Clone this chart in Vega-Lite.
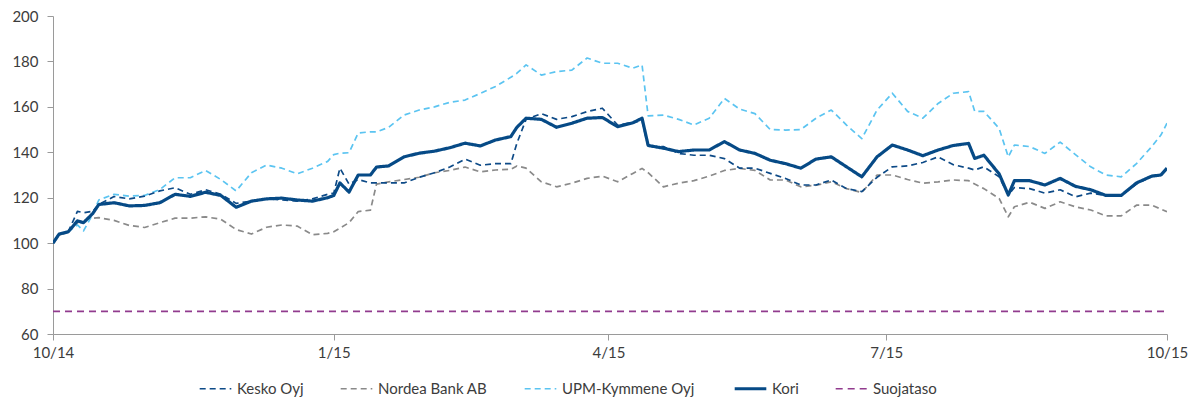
{
  "$schema": "https://vega.github.io/schema/vega-lite/v6.json",
  "width": 1114,
  "height": 318,
  "autosize": {"type": "none"},
  "padding": {"left": 53, "top": 16, "right": 28, "bottom": 69},
  "background": "white",
  "config": {"view": {"stroke": null}, "font": "Lato"},
  "data": {
    "format": {"parse": {"date": "date:'%Y-%m-%d'"}},
    "values": [
      {"date": "2014-10-01", "Kesko Oyj": 100, "Nordea Bank AB": 100, "UPM-Kymmene Oyj": 100, "Kori": 100, "Suojataso": 70},
      {"date": "2014-10-03", "Kesko Oyj": 104, "Nordea Bank AB": 103.5, "UPM-Kymmene Oyj": 104, "Kori": 104, "Suojataso": 70},
      {"date": "2014-10-06", "Kesko Oyj": 105, "Nordea Bank AB": 105, "UPM-Kymmene Oyj": 105, "Kori": 105, "Suojataso": 70},
      {"date": "2014-10-09", "Kesko Oyj": 114, "Nordea Bank AB": 109, "UPM-Kymmene Oyj": 108, "Kori": 109.8, "Suojataso": 70},
      {"date": "2014-10-11", "Kesko Oyj": 113.4, "Nordea Bank AB": 110, "UPM-Kymmene Oyj": 105.4, "Kori": 109, "Suojataso": 70},
      {"date": "2014-10-14", "Kesko Oyj": 114, "Nordea Bank AB": 111, "UPM-Kymmene Oyj": 112.7, "Kori": 113, "Suojataso": 70},
      {"date": "2014-10-16", "Kesko Oyj": 117, "Nordea Bank AB": 111.2, "UPM-Kymmene Oyj": 119, "Kori": 117, "Suojataso": 70},
      {"date": "2014-10-21", "Kesko Oyj": 120.5, "Nordea Bank AB": 110, "UPM-Kymmene Oyj": 121.5, "Kori": 117.8, "Suojataso": 70},
      {"date": "2014-10-26", "Kesko Oyj": 119.5, "Nordea Bank AB": 107.8, "UPM-Kymmene Oyj": 120.7, "Kori": 116.4, "Suojataso": 70},
      {"date": "2014-10-31", "Kesko Oyj": 120.7, "Nordea Bank AB": 106.9, "UPM-Kymmene Oyj": 121, "Kori": 116.6, "Suojataso": 70},
      {"date": "2014-11-05", "Kesko Oyj": 123, "Nordea Bank AB": 109, "UPM-Kymmene Oyj": 123.6, "Kori": 117.8, "Suojataso": 70},
      {"date": "2014-11-10", "Kesko Oyj": 124.4, "Nordea Bank AB": 111, "UPM-Kymmene Oyj": 128.8, "Kori": 121.5, "Suojataso": 70},
      {"date": "2014-11-15", "Kesko Oyj": 121.5, "Nordea Bank AB": 111, "UPM-Kymmene Oyj": 128.8, "Kori": 120.6, "Suojataso": 70},
      {"date": "2014-11-20", "Kesko Oyj": 123.5, "Nordea Bank AB": 111.6, "UPM-Kymmene Oyj": 132, "Kori": 122.4, "Suojataso": 70},
      {"date": "2014-11-25", "Kesko Oyj": 121.5, "Nordea Bank AB": 110.5, "UPM-Kymmene Oyj": 128, "Kori": 121, "Suojataso": 70},
      {"date": "2014-11-30", "Kesko Oyj": 117.5, "Nordea Bank AB": 106, "UPM-Kymmene Oyj": 123, "Kori": 115.8, "Suojataso": 70},
      {"date": "2014-12-05", "Kesko Oyj": 118.5, "Nordea Bank AB": 104, "UPM-Kymmene Oyj": 131, "Kori": 118.5, "Suojataso": 70},
      {"date": "2014-12-10", "Kesko Oyj": 119.5, "Nordea Bank AB": 107, "UPM-Kymmene Oyj": 134.4, "Kori": 119.5, "Suojataso": 70},
      {"date": "2014-12-15", "Kesko Oyj": 119, "Nordea Bank AB": 108, "UPM-Kymmene Oyj": 133, "Kori": 119.8, "Suojataso": 70},
      {"date": "2014-12-20", "Kesko Oyj": 118.5, "Nordea Bank AB": 107.5, "UPM-Kymmene Oyj": 130.5, "Kori": 119, "Suojataso": 70},
      {"date": "2014-12-25", "Kesko Oyj": 119.5, "Nordea Bank AB": 103.7, "UPM-Kymmene Oyj": 133, "Kori": 118.5, "Suojataso": 70},
      {"date": "2014-12-30", "Kesko Oyj": 121.5, "Nordea Bank AB": 104.3, "UPM-Kymmene Oyj": 136, "Kori": 120, "Suojataso": 70},
      {"date": "2015-01-01", "Kesko Oyj": 122, "Nordea Bank AB": 105, "UPM-Kymmene Oyj": 139, "Kori": 121, "Suojataso": 70},
      {"date": "2015-01-03", "Kesko Oyj": 133, "Nordea Bank AB": 106.6, "UPM-Kymmene Oyj": 139.6, "Kori": 126.5, "Suojataso": 70},
      {"date": "2015-01-06", "Kesko Oyj": 126, "Nordea Bank AB": 109, "UPM-Kymmene Oyj": 139.8, "Kori": 122.5, "Suojataso": 70},
      {"date": "2015-01-09", "Kesko Oyj": 128, "Nordea Bank AB": 113.9, "UPM-Kymmene Oyj": 148.5, "Kori": 130, "Suojataso": 70},
      {"date": "2015-01-13", "Kesko Oyj": 126.5, "Nordea Bank AB": 114.5, "UPM-Kymmene Oyj": 149, "Kori": 130, "Suojataso": 70},
      {"date": "2015-01-15", "Kesko Oyj": 126.5, "Nordea Bank AB": 126, "UPM-Kymmene Oyj": 149, "Kori": 133.5, "Suojataso": 70},
      {"date": "2015-01-19", "Kesko Oyj": 126.5, "Nordea Bank AB": 127, "UPM-Kymmene Oyj": 151, "Kori": 134, "Suojataso": 70},
      {"date": "2015-01-24", "Kesko Oyj": 126.5, "Nordea Bank AB": 128, "UPM-Kymmene Oyj": 156.4, "Kori": 138, "Suojataso": 70},
      {"date": "2015-01-29", "Kesko Oyj": 129, "Nordea Bank AB": 129, "UPM-Kymmene Oyj": 158.6, "Kori": 139.6, "Suojataso": 70},
      {"date": "2015-02-03", "Kesko Oyj": 131, "Nordea Bank AB": 131, "UPM-Kymmene Oyj": 160, "Kori": 140.5, "Suojataso": 70},
      {"date": "2015-02-08", "Kesko Oyj": 133.5, "Nordea Bank AB": 132, "UPM-Kymmene Oyj": 162, "Kori": 142, "Suojataso": 70},
      {"date": "2015-02-13", "Kesko Oyj": 137, "Nordea Bank AB": 133.5, "UPM-Kymmene Oyj": 163, "Kori": 144, "Suojataso": 70},
      {"date": "2015-02-18", "Kesko Oyj": 134.3, "Nordea Bank AB": 131.4, "UPM-Kymmene Oyj": 165.9, "Kori": 142.8, "Suojataso": 70},
      {"date": "2015-02-23", "Kesko Oyj": 135, "Nordea Bank AB": 132.2, "UPM-Kymmene Oyj": 169, "Kori": 145.4, "Suojataso": 70},
      {"date": "2015-02-28", "Kesko Oyj": 135, "Nordea Bank AB": 132.5, "UPM-Kymmene Oyj": 173, "Kori": 146.9, "Suojataso": 70},
      {"date": "2015-03-02", "Kesko Oyj": 144, "Nordea Bank AB": 134, "UPM-Kymmene Oyj": 174.8, "Kori": 151, "Suojataso": 70},
      {"date": "2015-03-05", "Kesko Oyj": 154.5, "Nordea Bank AB": 133, "UPM-Kymmene Oyj": 178.5, "Kori": 155, "Suojataso": 70},
      {"date": "2015-03-10", "Kesko Oyj": 157, "Nordea Bank AB": 127, "UPM-Kymmene Oyj": 174, "Kori": 154.5, "Suojataso": 70},
      {"date": "2015-03-15", "Kesko Oyj": 154.5, "Nordea Bank AB": 124.8, "UPM-Kymmene Oyj": 175.5, "Kori": 151, "Suojataso": 70},
      {"date": "2015-03-20", "Kesko Oyj": 155.7, "Nordea Bank AB": 126.4, "UPM-Kymmene Oyj": 176.2, "Kori": 152.8, "Suojataso": 70},
      {"date": "2015-03-25", "Kesko Oyj": 157.9, "Nordea Bank AB": 128.5, "UPM-Kymmene Oyj": 181.5, "Kori": 155, "Suojataso": 70},
      {"date": "2015-03-30", "Kesko Oyj": 159.4, "Nordea Bank AB": 129.5, "UPM-Kymmene Oyj": 179.2, "Kori": 155.3, "Suojataso": 70},
      {"date": "2015-04-04", "Kesko Oyj": 152, "Nordea Bank AB": 127, "UPM-Kymmene Oyj": 179.2, "Kori": 151.3, "Suojataso": 70},
      {"date": "2015-04-09", "Kesko Oyj": 153, "Nordea Bank AB": 130.7, "UPM-Kymmene Oyj": 177, "Kori": 153, "Suojataso": 70},
      {"date": "2015-04-12", "Kesko Oyj": 154, "Nordea Bank AB": 132.9, "UPM-Kymmene Oyj": 178.5, "Kori": 155, "Suojataso": 70},
      {"date": "2015-04-14", "Kesko Oyj": 142.5, "Nordea Bank AB": 131, "UPM-Kymmene Oyj": 156, "Kori": 143, "Suojataso": 70},
      {"date": "2015-04-19", "Kesko Oyj": 142.5, "Nordea Bank AB": 124.8, "UPM-Kymmene Oyj": 156.4, "Kori": 141.8, "Suojataso": 70},
      {"date": "2015-04-24", "Kesko Oyj": 139.5, "Nordea Bank AB": 126.4, "UPM-Kymmene Oyj": 154.5, "Kori": 140.3, "Suojataso": 70},
      {"date": "2015-04-29", "Kesko Oyj": 138.7, "Nordea Bank AB": 127.5, "UPM-Kymmene Oyj": 152, "Kori": 141, "Suojataso": 70},
      {"date": "2015-05-04", "Kesko Oyj": 138.7, "Nordea Bank AB": 129.5, "UPM-Kymmene Oyj": 155, "Kori": 141, "Suojataso": 70},
      {"date": "2015-05-09", "Kesko Oyj": 137.2, "Nordea Bank AB": 132, "UPM-Kymmene Oyj": 163.7, "Kori": 144.7, "Suojataso": 70},
      {"date": "2015-05-14", "Kesko Oyj": 133, "Nordea Bank AB": 132.9, "UPM-Kymmene Oyj": 159, "Kori": 141, "Suojataso": 70},
      {"date": "2015-05-19", "Kesko Oyj": 133, "Nordea Bank AB": 132, "UPM-Kymmene Oyj": 157, "Kori": 139.5, "Suojataso": 70},
      {"date": "2015-05-24", "Kesko Oyj": 130.7, "Nordea Bank AB": 127.8, "UPM-Kymmene Oyj": 150, "Kori": 136.5, "Suojataso": 70},
      {"date": "2015-05-29", "Kesko Oyj": 128.5, "Nordea Bank AB": 127.8, "UPM-Kymmene Oyj": 149.8, "Kori": 135, "Suojataso": 70},
      {"date": "2015-06-03", "Kesko Oyj": 125.6, "Nordea Bank AB": 124.8, "UPM-Kymmene Oyj": 150, "Kori": 133, "Suojataso": 70},
      {"date": "2015-06-08", "Kesko Oyj": 125.6, "Nordea Bank AB": 125.5, "UPM-Kymmene Oyj": 155, "Kori": 137, "Suojataso": 70},
      {"date": "2015-06-13", "Kesko Oyj": 127.8, "Nordea Bank AB": 127, "UPM-Kymmene Oyj": 158.6, "Kori": 138, "Suojataso": 70},
      {"date": "2015-06-18", "Kesko Oyj": 124, "Nordea Bank AB": 124, "UPM-Kymmene Oyj": 152, "Kori": 133.6, "Suojataso": 70},
      {"date": "2015-06-23", "Kesko Oyj": 122.7, "Nordea Bank AB": 122.3, "UPM-Kymmene Oyj": 146, "Kori": 129.2, "Suojataso": 70},
      {"date": "2015-06-28", "Kesko Oyj": 129, "Nordea Bank AB": 130, "UPM-Kymmene Oyj": 158.6, "Kori": 138, "Suojataso": 70},
      {"date": "2015-07-03", "Kesko Oyj": 133.6, "Nordea Bank AB": 130, "UPM-Kymmene Oyj": 166, "Kori": 143.2, "Suojataso": 70},
      {"date": "2015-07-08", "Kesko Oyj": 134, "Nordea Bank AB": 128, "UPM-Kymmene Oyj": 158, "Kori": 141, "Suojataso": 70},
      {"date": "2015-07-13", "Kesko Oyj": 135.5, "Nordea Bank AB": 126.4, "UPM-Kymmene Oyj": 155, "Kori": 138.5, "Suojataso": 70},
      {"date": "2015-07-18", "Kesko Oyj": 138, "Nordea Bank AB": 127, "UPM-Kymmene Oyj": 161.5, "Kori": 141, "Suojataso": 70},
      {"date": "2015-07-23", "Kesko Oyj": 134.5, "Nordea Bank AB": 127.8, "UPM-Kymmene Oyj": 166, "Kori": 143, "Suojataso": 70},
      {"date": "2015-07-28", "Kesko Oyj": 133, "Nordea Bank AB": 127.5, "UPM-Kymmene Oyj": 166.7, "Kori": 143.9, "Suojataso": 70},
      {"date": "2015-07-30", "Kesko Oyj": 132.2, "Nordea Bank AB": 126, "UPM-Kymmene Oyj": 158, "Kori": 137.3, "Suojataso": 70},
      {"date": "2015-08-02", "Kesko Oyj": 133.6, "Nordea Bank AB": 124, "UPM-Kymmene Oyj": 158, "Kori": 138.7, "Suojataso": 70},
      {"date": "2015-08-07", "Kesko Oyj": 129.2, "Nordea Bank AB": 119.7, "UPM-Kymmene Oyj": 150.5, "Kori": 130.5, "Suojataso": 70},
      {"date": "2015-08-10", "Kesko Oyj": 121.2, "Nordea Bank AB": 111.6, "UPM-Kymmene Oyj": 138, "Kori": 121.2, "Suojataso": 70},
      {"date": "2015-08-12", "Kesko Oyj": 124.5, "Nordea Bank AB": 116, "UPM-Kymmene Oyj": 143.2, "Kori": 127.5, "Suojataso": 70},
      {"date": "2015-08-17", "Kesko Oyj": 124, "Nordea Bank AB": 118, "UPM-Kymmene Oyj": 142.5, "Kori": 127.5, "Suojataso": 70},
      {"date": "2015-08-22", "Kesko Oyj": 122, "Nordea Bank AB": 115.3, "UPM-Kymmene Oyj": 139.5, "Kori": 125.6, "Suojataso": 70},
      {"date": "2015-08-27", "Kesko Oyj": 123.5, "Nordea Bank AB": 118.2, "UPM-Kymmene Oyj": 144.5, "Kori": 128.5, "Suojataso": 70},
      {"date": "2015-09-01", "Kesko Oyj": 120.4, "Nordea Bank AB": 116, "UPM-Kymmene Oyj": 139, "Kori": 125, "Suojataso": 70},
      {"date": "2015-09-06", "Kesko Oyj": 122, "Nordea Bank AB": 114.6, "UPM-Kymmene Oyj": 133.6, "Kori": 123.5, "Suojataso": 70},
      {"date": "2015-09-11", "Kesko Oyj": 121, "Nordea Bank AB": 112, "UPM-Kymmene Oyj": 130, "Kori": 121, "Suojataso": 70},
      {"date": "2015-09-16", "Kesko Oyj": 121, "Nordea Bank AB": 112, "UPM-Kymmene Oyj": 129.2, "Kori": 121, "Suojataso": 70},
      {"date": "2015-09-21", "Kesko Oyj": 126, "Nordea Bank AB": 116.7, "UPM-Kymmene Oyj": 135, "Kori": 126.5, "Suojataso": 70},
      {"date": "2015-09-26", "Kesko Oyj": 129.5, "Nordea Bank AB": 116.7, "UPM-Kymmene Oyj": 142.5, "Kori": 129.5, "Suojataso": 70},
      {"date": "2015-09-29", "Kesko Oyj": 130, "Nordea Bank AB": 115, "UPM-Kymmene Oyj": 147.6, "Kori": 130, "Suojataso": 70},
      {"date": "2015-10-01", "Kesko Oyj": 132.5, "Nordea Bank AB": 113.8, "UPM-Kymmene Oyj": 152.8, "Kori": 133, "Suojataso": 70}
    ]
  },
  "transform": [
    {"fold": ["Suojataso", "Nordea Bank AB", "UPM-Kymmene Oyj", "Kesko Oyj", "Kori"], "as": ["series", "value"]}
  ],
  "mark": {"type": "line", "interpolate": "linear", "clip": true, "strokeJoin": "round"},
  "encoding": {
    "x": {
      "field": "date",
      "type": "temporal",
      "scale": {"domain": [{"year": 2014, "month": 10, "date": 1}, {"year": 2015, "month": 10, "date": 1}], "nice": false},
      "axis": {
        "title": null,
        "grid": false,
        "values": [
          {"year": 2014, "month": 10, "date": 1},
          {"year": 2015, "month": 1, "date": 1},
          {"year": 2015, "month": 4, "date": 1},
          {"year": 2015, "month": 7, "date": 1},
          {"year": 2015, "month": 10, "date": 1}
        ],
        "format": "%-m/%y",
        "labelFlush": false,
        "labelOverlap": false,
        "tickSize": 6,
        "labelPadding": 5,
        "domainColor": "#9a9a9a",
        "tickColor": "#9a9a9a",
        "labelColor": "#3c3c3c",
        "labelFontSize": 15,
        "labelFont": "Lato"
      }
    },
    "y": {
      "field": "value",
      "type": "quantitative",
      "scale": {"domain": [60, 200], "nice": false, "zero": false},
      "axis": {
        "title": null,
        "grid": false,
        "values": [60, 80, 100, 120, 140, 160, 180, 200],
        "tickSize": 6,
        "labelPadding": 9,
        "domainColor": "#9a9a9a",
        "tickColor": "#9a9a9a",
        "labelColor": "#3c3c3c",
        "labelFontSize": 15,
        "labelFont": "Lato"
      }
    },
    "color": {
      "field": "series",
      "type": "nominal",
      "scale": {
        "domain": ["Kesko Oyj", "Nordea Bank AB", "UPM-Kymmene Oyj", "Kori", "Suojataso"],
        "range": ["#0d4a87", "#8a8a8a", "#5bc4f1", "#064a86", "#913b8e"]
      },
      "legend": {
        "title": null,
        "orient": "none",
        "legendX": 155,
        "legendY": 365,
        "direction": "horizontal",
        "symbolType": "stroke",
        "symbolSize": 1000,
        "labelFontSize": 15,
        "labelFont": "Lato",
        "labelColor": "#3c3c3c",
        "labelOffset": 14,
        "columnPadding": 33,
        "encode": {
          "symbols": {
            "update": {
              "strokeWidth": {"signal": "datum.value === 'Kori' ? 3.2 : 1.7"}
            }
          }
        }
      }
    },
    "strokeDash": {
      "field": "series",
      "type": "nominal",
      "scale": {
        "domain": ["Kesko Oyj", "Nordea Bank AB", "UPM-Kymmene Oyj", "Kori", "Suojataso"],
        "range": [[6, 4], [6, 4], [6, 4], [1, 0], [7, 5]]
      }
    },
    "strokeWidth": {
      "condition": {"test": "datum.series === 'Kori'", "value": 3.2},
      "value": 1.7
    }
  }
}
